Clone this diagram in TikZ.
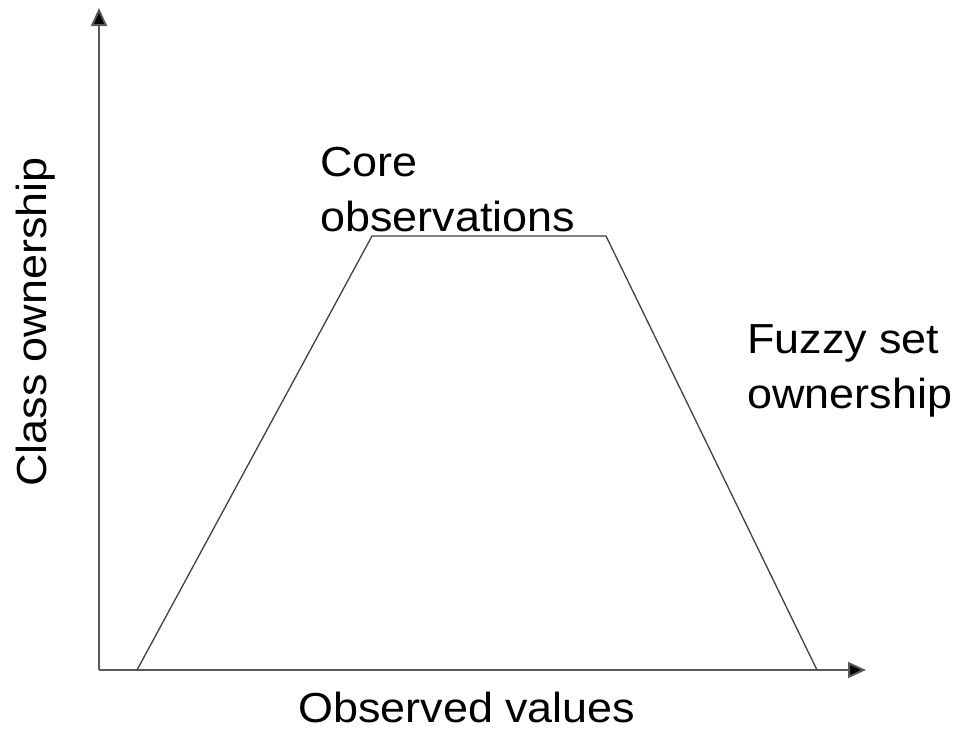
\documentclass[tikz,border=0pt]{standalone}
\usepackage{fontspec}
\setmainfont{Liberation Sans}
\newfontfamily\lab[FakeStretch=1.07]{Liberation Sans}
\usetikzlibrary{arrows.meta}
\begin{document}
\begin{tikzpicture}[x=1pt,y=-1pt,
  axis/.style={draw=black!65,line width=2pt,-{Triangle[length=18pt,width=16pt,fill=black]}},
  curve/.style={draw=black!75,line width=1.3pt,line join=miter},
  txt/.style={inner sep=0pt,font=\lab\fontsize{42}{55}\selectfont,align=left}]
\useasboundingbox (0,0) rectangle (959,729);
\coordinate (o) at (99,670);
\coordinate (ytop) at (99,8);
\coordinate (xend) at (866,670);
\draw[axis] (o) -- (ytop);
\draw[axis] (o) -- (xend);
\coordinate (p1) at (137,670);
\coordinate (p2) at (372,236);
\coordinate (p3) at (606,236);
\coordinate (p4) at (817,670);
\draw[curve] (p1) -- (p2) -- (p3) -- (p4);
\node[txt,anchor=base west] (core) at (320,231) {Core\\observations};
\node[txt,anchor=base west] (fuzzy) at (747,408) {Fuzzy set\\ownership};
\node[txt,anchor=base west] (xl) at (298,722) {Observed values};
\node[txt,anchor=base west,rotate=90] (yl) at (46,487) {Class ownership};
\end{tikzpicture}
\end{document}
